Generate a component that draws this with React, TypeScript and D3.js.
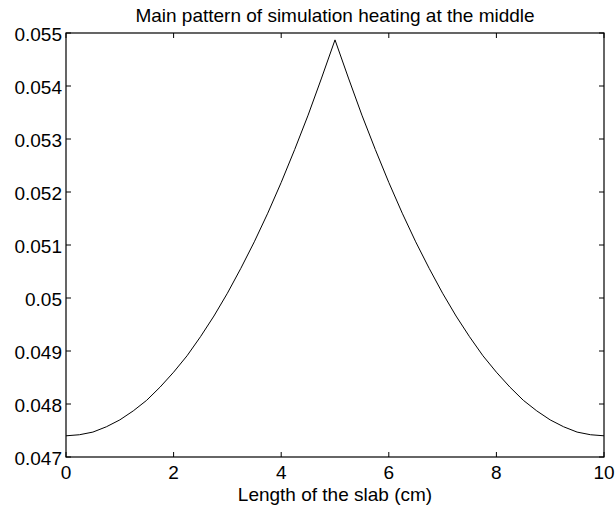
import React from "react";
import * as d3 from "d3";

const xValues: number[] = [
  0, 0.25, 0.5, 0.75, 1, 1.25, 1.5, 1.75, 2, 2.25, 2.5, 2.75, 3, 3.25, 3.5, 3.75, 4, 4.25, 4.5, 4.75,
  5, 5.25, 5.5, 5.75, 6, 6.25, 6.5, 6.75, 7, 7.25, 7.5, 7.75, 8, 8.25, 8.5, 8.75, 9, 9.25, 9.5, 9.75, 10,
];
const heatValues: number[] = [
  0.0474, 0.04742, 0.04747, 0.04757, 0.0477, 0.04787, 0.04807, 0.04832, 0.0486, 0.04891, 0.04927,
  0.04966, 0.05009, 0.05056, 0.05106, 0.0516, 0.05218, 0.0528, 0.05345, 0.05415, 0.05487,
  0.05415, 0.05345, 0.0528, 0.05218, 0.0516, 0.05106, 0.05056, 0.05009, 0.04966, 0.04927,
  0.04891, 0.0486, 0.04832, 0.04807, 0.04787, 0.0477, 0.04757, 0.04747, 0.04742, 0.0474,
];
const xTicks: number[] = [0, 2, 4, 6, 8, 10];
const yTicks: number[] = [0.047, 0.048, 0.049, 0.05, 0.051, 0.052, 0.053, 0.054, 0.055];
const yTickLabels: string[] = ["0.047", "0.048", "0.049", "0.05", "0.051", "0.052", "0.053", "0.054", "0.055"];
const titleText = "Main pattern of simulation heating at the middle";
const xLabelText = "Length of the slab (cm)";

const W = 616;
const H = 508;
const left = 66;
const right = 604;
const top = 33;
const bottom = 457;
const font = "'Liberation Sans', Arial, Helvetica, sans-serif";
const fs = 19;
const tickLen = 5;

export default function App() {
  const x = d3.scaleLinear().domain([0, 10]).range([left, right]);
  const y = d3.scaleLinear().domain([0.047, 0.055]).range([bottom, top]);
  const pts: [number, number][] = xValues.map((v, i) => [v, heatValues[i]]);
  const line = d3
    .line<[number, number]>()
    .x((d) => x(d[0]))
    .y((d) => y(d[1]));

  return (
    <svg
      width={W}
      height={H}
      style={{ position: "absolute", left: 0, top: 0, background: "#fff" }}
      fontFamily={font}
    >
      <rect x={0} y={0} width={W} height={H} fill="#fff" />
      <path d={line(pts) || ""} fill="none" stroke="#000" strokeWidth={1} />
      {xTicks.map((t) => (
        <g key={"xt" + t}>
          <line x1={x(t)} x2={x(t)} y1={bottom} y2={bottom - tickLen} stroke="#000" />
          <line x1={x(t)} x2={x(t)} y1={top} y2={top + tickLen} stroke="#000" />
          <text x={x(t)} y={bottom + 22} textAnchor="middle" fontSize={fs} fill="#000">
            {String(t)}
          </text>
        </g>
      ))}
      {yTicks.map((t, i) => (
        <g key={"yt" + i}>
          <line x1={left} x2={left + tickLen} y1={y(t)} y2={y(t)} stroke="#000" />
          <line x1={right} x2={right - tickLen} y1={y(t)} y2={y(t)} stroke="#000" />
          <text x={left - 4} y={y(t) + 8} textAnchor="end" fontSize={fs} fill="#000">
            {yTickLabels[i]}
          </text>
        </g>
      ))}
      <rect
        x={left}
        y={top}
        width={right - left}
        height={bottom - top}
        fill="none"
        stroke="#000"
        strokeWidth={1.2}
      />
      <text x={(left + right) / 2} y={22} textAnchor="middle" fontSize={fs} fill="#000">
        {titleText}
      </text>
      <text x={(left + right) / 2} y={501} textAnchor="middle" fontSize={fs} fill="#000">
        {xLabelText}
      </text>
    </svg>
  );
}
